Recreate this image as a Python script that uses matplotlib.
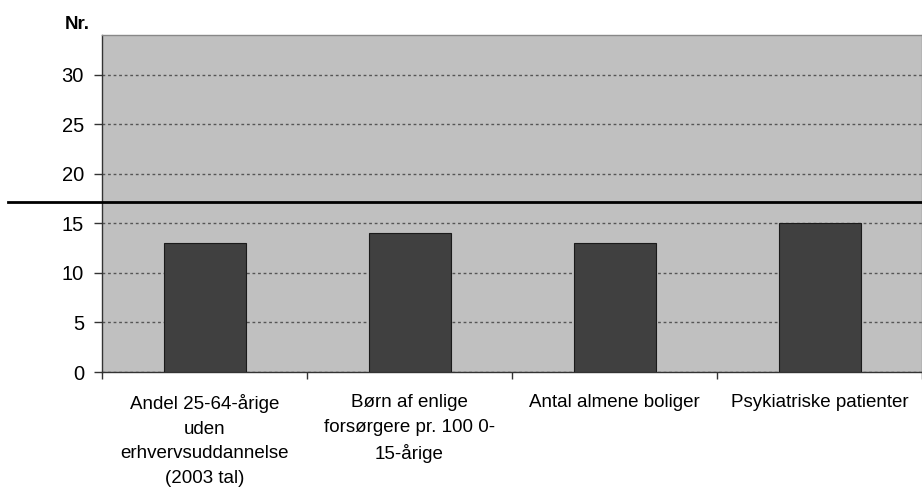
import matplotlib.pyplot as plt
import numpy as np

plt.rcParams['font.family'] = ['Liberation Sans', 'DejaVu Sans']

# data
categories = [
    "Andel 25-64-årige\nuden\nerhvervsuddannelse\n(2003 tal)",
    "Børn af enlige\nforsørgere pr. 100 0-\n15-årige",
    "Antal almene boliger",
    "Psykiatriske patienter",
]
values = [13, 14, 13, 15]
threshold = 17.2
y_ticks = [0, 5, 10, 15, 20, 25, 30]

fig = plt.figure(figsize=(9.22, 4.92), dpi=100)
ax = fig.add_axes([102 / 922, 1 - 372 / 492, 820 / 922, (372 - 35) / 492])
ax.set_facecolor('#c0c0c0')

x = np.arange(len(values))
ax.bar(x, values, width=0.4, color='#404040', edgecolor='#1a1a1a', linewidth=0.8, zorder=3)

# threshold line, extends left past the axis
ax.axhline(threshold, xmin=-(102 - 8) / 820, xmax=1, color='black', linewidth=2,
           clip_on=False, zorder=4)

ax.set_xlim(-0.5, len(values) - 0.5)
ax.set_ylim(0, 34)
ax.set_yticks(y_ticks)
ax.tick_params(axis='y', labelsize=14.5, length=6, width=1, color='#333333', pad=7)
ax.yaxis.grid(True, linestyle=(0, (2, 2)), color='#555555', linewidth=1)
ax.set_axisbelow(True)

# category ticks at boundaries, labels centred
ax.set_xticks(np.arange(len(values) + 1) - 0.5)
ax.set_xticklabels([])
ax.set_xticks(x, minor=True)
ax.set_xticklabels(categories, minor=True, fontsize=13.5, linespacing=1.58)
ax.tick_params(axis='x', which='major', length=5, width=1, color='#333333')
ax.tick_params(axis='x', which='minor', length=0, pad=16)

for s in ['left', 'bottom']:
    ax.spines[s].set_color('#333333')
    ax.spines[s].set_linewidth(1)
for s in ['top', 'right']:
    ax.spines[s].set_color('#888888')
    ax.spines[s].set_linewidth(1)

fig.text(65 / 922, 1 - 29 / 492, "Nr.", fontsize=13.5, fontweight='bold', va='baseline')

fig.savefig('out.png', dpi=100)
